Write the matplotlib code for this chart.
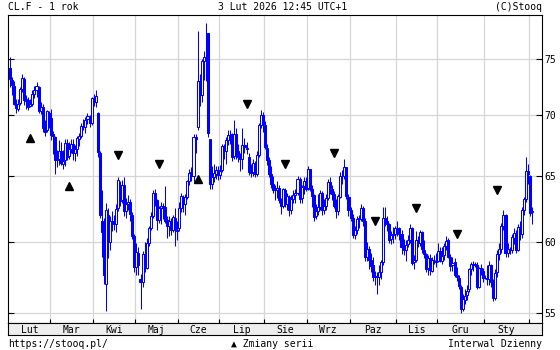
import matplotlib
matplotlib.use("Agg")
import matplotlib.pyplot as plt
from matplotlib.ticker import FixedLocator, NullLocator, FuncFormatter
import numpy as np
import pandas as pd


# trading days shown by stooq for CL.F, Feb 2025 - Feb 2026
HOLIDAYS = ["2025-04-18", "2025-05-26", "2025-06-19", "2025-07-04", "2025-09-01"]

OPENS = [
    74.2, 73.1, 72.6, 71.0, 70.6, 71.1, 72.3, 73.2, 71.4, 71.3, 70.8, 71.0, 71.9, 72.2, 72.5, 70.4, 70.7, 68.9, 68.8, 70.2,
    69.8, 68.4, 68.2, 66.3, 66.4, 67.0, 66.0, 66.3, 67.7, 66.6, 67.2, 67.6, 66.9, 67.2, 68.0, 68.3, 69.1, 69.0, 69.7, 69.9, 69.4,
    71.5, 71.2, 70.2, 66.9, 61.5, 61.0, 57.0, 62.0, 60.0, 61.5, 61.5, 61.3, 62.5, 64.3, 63.1, 64.3, 62.3, 62.8, 63.0, 62.0, 60.4,
    58.2, 59.2, 57.3, 57.1, 59.1, 58.1, 59.9, 61.0, 61.9, 63.7, 63.1, 61.6, 62.5, 62.7, 62.6, 61.6, 61.2, 61.5, 60.9, 61.8, 60.9,
    61.0, 62.5, 63.4, 62.8, 63.4, 64.6, 65.3, 65.0, 68.2, 69.0, 73.0, 71.8, 74.8, 74.9, 77.4, 68.0, 64.4, 64.9, 65.2, 65.5,
    65.1, 65.5, 67.4, 67.0, 67.9, 68.3, 68.4, 66.6, 68.4, 67.0, 66.5, 66.4, 67.5, 67.3, 66.5, 65.3, 65.3, 66.0, 65.2, 66.7, 69.2, 70.0,
    69.2, 67.3, 66.3, 65.2, 64.4, 63.9, 63.9, 64.1, 63.2, 62.7, 63.9, 62.8, 63.4, 62.4, 63.2, 63.5, 63.7, 64.8, 63.3, 64.2, 64.6,
    64.1, 65.6, 64.0, 63.5, 61.9, 62.3, 62.6, 63.7, 62.4, 62.7, 63.3, 64.5, 64.0, 63.6, 62.7, 62.3, 63.4, 65.0, 65.0, 65.7, 63.4,
    62.4, 61.8, 60.5, 60.9, 61.7, 61.7, 62.5, 61.5, 58.9, 59.5, 58.7, 58.3, 57.5, 57.5, 57.5, 57.8, 58.5, 61.8, 61.5, 61.3, 60.2, 60.5, 60.6,
    61.0, 61.0, 60.6, 59.6, 59.4, 59.8, 60.1, 61.0, 58.5, 58.7, 60.1, 59.9, 60.7, 59.4, 59.1, 58.1, 58.8, 57.9, 58.7, 58.6,
    58.6, 59.3, 58.6, 59.0, 59.7, 60.1, 58.9, 58.3, 58.5, 57.6, 57.4, 56.8, 55.3, 55.9, 56.2, 56.6, 58.0, 58.4, 58.4, 58.3, 56.8, 58.1, 57.9,
    57.4, 57.4, 57.3, 58.3, 57.1, 56.0, 57.8, 59.1, 59.5, 61.2, 62.0, 59.2, 59.4, 59.4, 60.3, 60.6, 59.4, 61.1, 60.6, 62.4, 63.2, 65.4,
    65.0, 62.2,
]
HIGHS = [
    75.2, 73.4, 73.0, 71.4, 71.4, 72.5, 73.6, 73.4, 71.8, 71.6, 71.4, 72.2, 72.6, 72.9, 72.6, 71.2, 71.0, 69.6, 70.5, 70.4,
    70.6, 68.7, 68.3, 67.1, 67.9, 67.8, 67.1, 68.0, 68.0, 67.8, 68.0, 68.0, 67.5, 68.3, 68.5, 69.4, 69.7, 69.9, 70.2, 70.0, 71.6,
    71.9, 72.2, 70.3, 67.0, 63.9, 61.8, 62.9, 62.5, 61.9, 62.3, 62.0, 62.8, 64.9, 64.6, 64.7, 64.9, 63.3, 63.5, 63.2, 62.2, 60.6,
    59.9, 59.6, 57.7, 59.3, 60.0, 60.3, 61.2, 62.2, 63.9, 64.0, 63.2, 62.7, 63.0, 62.9, 64.2, 61.9, 61.9, 61.8, 62.0, 62.5, 61.5,
    63.0, 63.7, 63.5, 63.6, 64.7, 65.6, 65.7, 68.4, 68.4, 77.6, 73.6, 75.0, 75.7, 78.4, 68.5, 65.5, 65.8, 66.0, 65.8, 65.8,
    65.9, 67.6, 67.6, 68.2, 68.8, 68.8, 68.5, 69.6, 68.9, 67.6, 66.9, 68.9, 68.1, 67.8, 66.9, 66.0, 66.4, 66.2, 67.0, 69.4, 70.5, 70.3,
    69.5, 67.6, 66.5, 65.8, 65.0, 64.3, 64.6, 64.3, 63.3, 64.1, 64.1, 63.7, 63.5, 63.5, 63.9, 64.0, 65.0, 64.9, 64.3, 64.9, 64.9,
    65.8, 65.6, 64.3, 63.6, 62.8, 63.6, 63.9, 63.8, 63.2, 63.6, 64.8, 64.9, 64.3, 63.8, 63.2, 63.6, 65.3, 65.5, 66.4, 65.7, 63.6,
    62.6, 62.1, 61.2, 61.9, 62.0, 62.8, 62.7, 61.8, 60.0, 59.7, 59.2, 58.9, 57.9, 57.8, 58.3, 58.7, 62.6, 62.6, 61.9, 61.4, 60.8, 61.1, 61.2,
    61.5, 61.1, 60.9, 60.2, 60.1, 60.5, 61.3, 61.1, 59.0, 60.8, 60.4, 60.9, 60.8, 60.1, 59.2, 59.0, 59.1, 58.9, 59.0, 59.2,
    59.9, 59.6, 59.6, 59.9, 60.4, 60.3, 59.1, 58.9, 58.8, 58.2, 57.6, 56.9, 56.3, 56.6, 56.9, 58.1, 58.5, 58.6, 58.5, 58.5, 58.2, 58.4, 58.1,
    57.6, 58.3, 58.6, 58.4, 57.3, 58.0, 59.4, 59.9, 61.4, 62.4, 62.1, 59.9, 59.6, 60.6, 61.0, 60.9, 61.3, 61.5, 62.6, 63.4, 66.5, 66.0,
    65.1, 62.6,
]
LOWS = [
    72.5, 71.8, 70.9, 70.2, 70.4, 70.9, 72.0, 70.9, 70.6, 70.5, 70.7, 70.8, 71.5, 71.6, 70.2, 70.1, 68.6, 68.3, 68.6, 68.9,
    67.9, 66.8, 65.2, 65.7, 65.9, 65.9, 65.6, 65.8, 66.3, 66.4, 66.9, 66.3, 66.2, 66.6, 67.4, 68.1, 68.8, 68.5, 69.3, 69.0, 69.2,
    70.8, 70.7, 66.5, 61.8, 58.9, 57.0, 55.1, 58.8, 59.4, 60.8, 60.9, 60.7, 62.3, 62.7, 62.9, 61.9, 61.8, 62.4, 61.5, 60.2, 57.8,
    57.6, 57.6, 55.3, 56.8, 57.8, 58.0, 59.7, 60.9, 61.8, 62.7, 60.9, 61.4, 61.3, 61.7, 61.4, 60.3, 60.4, 60.5, 60.7, 59.7, 60.1,
    60.8, 62.2, 62.2, 62.0, 63.2, 64.3, 64.6, 64.5, 66.9, 68.8, 70.8, 71.2, 73.1, 73.0, 68.2, 64.0, 64.0, 64.5, 64.8, 64.7,
    64.8, 65.3, 66.4, 66.0, 67.5, 67.6, 66.2, 66.4, 66.4, 66.1, 65.4, 65.6, 66.9, 66.8, 65.1, 64.9, 65.0, 64.9, 65.0, 66.5, 68.9, 68.6,
    67.2, 65.9, 64.9, 64.1, 63.7, 63.1, 63.3, 62.9, 62.1, 62.5, 62.6, 62.4, 61.9, 62.1, 62.9, 62.9, 63.5, 62.9, 62.9, 63.6, 63.8,
    63.9, 63.8, 62.6, 61.5, 61.7, 62.0, 62.4, 62.0, 62.1, 62.4, 63.1, 63.6, 63.1, 62.5, 61.8, 62.0, 63.3, 64.4, 64.8, 63.2, 61.9,
    61.5, 60.3, 60.2, 60.6, 61.0, 61.5, 61.2, 58.6, 58.6, 58.0, 57.8, 57.2, 56.9, 56.3, 56.9, 57.3, 58.3, 61.2, 60.8, 59.9, 59.8, 59.9, 60.2,
    60.4, 60.1, 59.1, 59.0, 58.6, 59.6, 59.9, 58.3, 58.0, 58.5, 59.6, 59.7, 59.2, 58.8, 57.8, 57.6, 57.6, 57.8, 58.4, 58.2,
    58.5, 58.5, 58.4, 58.7, 59.4, 58.8, 57.9, 57.9, 57.5, 57.2, 56.6, 55.0, 55.1, 55.6, 55.9, 56.4, 57.6, 57.9, 58.2, 56.6, 56.7, 57.6, 57.1,
    57.3, 56.9, 56.9, 56.8, 55.8, 55.9, 57.5, 58.7, 59.2, 60.9, 58.9, 58.9, 59.1, 59.2, 59.8, 59.2, 59.3, 60.1, 60.3, 62.0, 63.0, 64.4,
    61.9, 61.3,
]
CLOSES = [
    73.16, 72.70, 71.03, 70.61, 71.00, 72.32, 73.32, 71.37, 71.29, 70.74, 71.00, 71.85, 72.25, 72.57, 70.40, 70.70, 68.93, 68.62, 70.35, 69.76,
    68.37, 68.26, 66.31, 66.36, 67.04, 66.03, 66.25, 67.68, 66.55, 67.18, 67.58, 66.90, 67.16, 68.07, 68.28, 69.11, 69.00, 69.65, 69.92, 69.36, 71.48,
    71.20, 71.71, 66.95, 61.99, 60.70, 57.58, 62.35, 60.07, 61.50, 61.53, 61.33, 62.47, 64.68, 63.08, 64.31, 62.27, 62.79, 63.02, 62.05, 60.42, 58.21,
    59.24, 58.29, 57.13, 59.09, 58.07, 59.91, 61.02, 61.95, 63.67, 63.15, 61.62, 62.49, 62.69, 62.56, 61.57, 61.20, 61.53, 60.89, 61.84, 60.94, 60.79,
    62.52, 63.41, 62.85, 63.37, 64.58, 65.29, 64.98, 68.15, 68.04, 72.98, 71.77, 74.84, 75.14, 74.93, 68.51, 64.37, 64.92, 65.24, 65.52, 65.11,
    65.45, 67.45, 67.00, 67.93, 68.33, 68.38, 66.57, 68.45, 66.98, 66.52, 66.38, 67.54, 67.34, 67.20, 65.31, 65.25, 66.03, 65.16, 66.71, 69.21, 70.00, 69.26,
    67.33, 66.29, 65.16, 64.35, 63.88, 63.88, 64.10, 63.17, 62.65, 63.96, 62.80, 63.42, 62.35, 63.21, 63.52, 63.66, 64.80, 63.25, 64.15, 64.60, 64.01,
    65.59, 63.97, 63.48, 61.87, 62.26, 62.63, 63.67, 62.37, 62.69, 63.30, 64.52, 64.05, 63.57, 62.68, 62.28, 63.41, 64.99, 65.00, 65.72, 63.45, 62.37,
    61.78, 60.48, 60.88, 61.69, 61.73, 62.55, 61.51, 58.90, 59.49, 58.70, 58.27, 57.46, 57.54, 57.52, 57.82, 58.50, 61.79, 61.50, 61.31, 60.15, 60.48, 60.57, 60.98,
    61.05, 60.56, 59.60, 59.43, 59.75, 60.13, 61.04, 58.49, 58.69, 60.09, 59.91, 60.74, 59.44, 59.14, 58.06, 58.84, 57.95, 58.65, 58.65, 58.55,
    59.32, 58.64, 58.95, 59.67, 60.08, 58.88, 58.25, 58.46, 57.60, 57.44, 56.82, 55.27, 55.94, 56.15, 56.52, 58.01, 58.38, 58.35, 58.35, 56.74, 58.08, 57.95, 57.42,
    57.42, 57.32, 58.32, 57.13, 55.99, 57.76, 59.12, 59.50, 61.15, 62.02, 59.19, 59.44, 59.44, 60.34, 60.62, 59.36, 61.07, 60.63, 62.39, 63.21, 65.42, 65.21,
    62.14, 62.30,
]

MONTH_LABELS = ["Lut", "Mar", "Kwi", "Maj", "Cze", "Lip", "Sie", "Wrz", "Paz", "Lis", "Gru", "Sty"]
Y_TICKS = [55, 60, 65, 70, 75]

# contract roll markers ("Zmiany serii"): bar index, price level, direction
ROLL_IDX = [10, 29, 53, 73, 92, 116, 135, 159, 179, 199, 219, 239]
ROLL_PRICE = [68.1, 64.2, 66.7, 66.0, 64.8, 71.0, 66.0, 66.9, 61.5, 62.5, 60.6, 63.9]
ROLL_UP = [True, True, False, False, True, False, False, False, False, False, False, False]

BLUE = "#0000ff"
GRID = "#d6d6d6"
FONT = ["DejaVu Sans Mono", "DejaVu Sans"]

W, H = 560, 350
LEFT, RIGHT, TOP, BOTTOM, BAND = 8, 542, 15, 323, 335


def fx(px):
    return px / W


def fy(py):
    return 1 - py / H


def main():
    plt.rcParams["font.family"] = FONT
    dates = pd.bdate_range("2025-02-03", "2026-02-03")
    dates = dates[~dates.isin(pd.to_datetime(HOLIDAYS))]
    n = len(CLOSES)
    dates = dates[:n]
    x = np.arange(n)

    o = np.array(OPENS)
    c = np.array(CLOSES)
    hi = np.array(HIGHS)
    lo = np.array(LOWS)

    fig = plt.figure(figsize=(W / 100, H / 100), dpi=100)
    ax = fig.add_axes([fx(LEFT), fy(BOTTOM), fx(RIGHT - LEFT), (BOTTOM - TOP) / H])
    band = fig.add_axes([fx(LEFT), fy(BAND), fx(RIGHT - LEFT), (BAND - BOTTOM) / H])

    # month boundaries and label positions
    month_key = dates.year * 12 + dates.month
    starts = [i for i in range(1, n) if month_key[i] != month_key[i - 1]]
    bounds = [s - 0.5 for s in starts]
    edges = [-0.5] + bounds
    mids = [(edges[i] + edges[i + 1]) / 2 for i in range(len(MONTH_LABELS))]

    ax.set_yscale("log")
    ax.set_ylim(54.33, 79.14)
    ax.set_xlim(-0.98, 260.9)

    ax.vlines(x, lo, hi, color=BLUE, linewidth=0.75, zorder=2)
    up = c >= o
    bottom = np.minimum(o, c)
    height = np.maximum(np.abs(c - o), 0.03)
    faces = ["white" if u else BLUE for u in up]
    ax.bar(x, height, bottom=bottom, width=1.0, color=faces, edgecolor=BLUE,
           linewidth=0.75, zorder=3)

    for idx, price, is_up in zip(ROLL_IDX, ROLL_PRICE, ROLL_UP):
        ax.plot(idx, price, marker="^" if is_up else "v", color="black",
                markersize=5.8, linestyle="none", zorder=4)

    ax.xaxis.set_major_locator(FixedLocator(bounds))
    ax.yaxis.set_major_locator(FixedLocator(Y_TICKS))
    ax.yaxis.set_minor_locator(NullLocator())
    ax.yaxis.set_major_formatter(FuncFormatter(lambda v, _: f"{v:.0f}"))
    ax.grid(True, color=GRID, linewidth=0.9, zorder=0)
    ax.set_axisbelow(True)
    ax.tick_params(axis="x", direction="in", length=3, width=0.8, labelbottom=False)
    ax.tick_params(axis="y", direction="in", length=4, width=0.8, left=True, right=True,
                   labelleft=False, labelright=True, pad=2, labelsize=7)
    for s in ax.spines.values():
        s.set_linewidth(0.8)

    band.set_facecolor("#eeeeee")
    band.set_xlim(ax.get_xlim())
    band.set_ylim(0, 1)
    band.set_xticks([])
    band.set_yticks([])
    for s in band.spines.values():
        s.set_linewidth(0.8)
    for pos, label in zip(mids, MONTH_LABELS):
        band.text(pos, 0.45, label, ha="center", va="center", fontsize=7)

    fig.text(fx(LEFT), fy(6.5), "CL.F - 1 rok", ha="left", va="center", fontsize=7)
    fig.text(fx(283), fy(6.5), "3 Lut 2026 12:45 UTC+1", ha="center", va="center", fontsize=7)
    fig.text(fx(RIGHT), fy(6.5), "(C)Stooq", ha="right", va="center", fontsize=7)
    fig.text(fx(LEFT), fy(344), "https://stooq.pl/", ha="left", va="center", fontsize=7)
    fig.text(fx(272), fy(344), "\u25b2 Zmiany serii", ha="center", va="center", fontsize=7)
    fig.text(fx(RIGHT), fy(344), "Interwal Dzienny", ha="right", va="center", fontsize=7)

    fig.savefig("out.png", dpi=100)
    plt.close(fig)


if __name__ == "__main__":
    main()
